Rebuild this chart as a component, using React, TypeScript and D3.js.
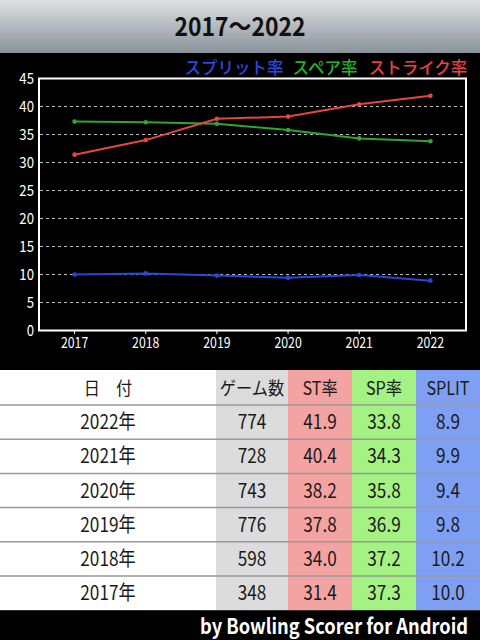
import React from "react";
import * as d3 from "d3";

const years = ["2017", "2018", "2019", "2020", "2021", "2022"];
const strikeRate = [31.4, 34.0, 37.8, 38.2, 40.4, 41.9];
const spareRate = [37.3, 37.2, 36.9, 35.8, 34.3, 33.8];
const splitRate = [10.0, 10.2, 9.8, 9.4, 9.9, 8.9];
const games = [348, 598, 776, 743, 728, 774];
const yTicks = [0, 5, 10, 15, 20, 25, 30, 35, 40, 45];
const title = "2017～2022";
const legendLabels = ["スプリット率", "スペア率", "ストライク率"];
const tableHeaders = ["日　付", "ゲーム数", "ST率", "SP率", "SPLIT"];
const footer = "by Bowling Scorer for Android";

const W = 480;
const H = 640;
const FONT = "'Noto Sans CJK JP', 'Noto Sans', sans-serif";

type TProps = {
  x: number;
  y: number;
  size: number;
  sx?: number;
  anchor?: "start" | "middle" | "end";
  fill?: string;
  weight?: string;
  children: React.ReactNode;
};

function T({ x, y, size, sx = 1, anchor = "middle", fill = "#1a1a1a", weight = "normal", children }: TProps) {
  return (
    <text
      transform={`translate(${x},${y}) scale(${sx},1)`}
      textAnchor={anchor}
      fontSize={size}
      fontWeight={weight}
      fill={fill}
    >
      {children}
    </text>
  );
}

export default function App() {
  const x = d3.scalePoint<string>().domain(years).range([39, 466]).padding(0.5);
  const y = d3.scaleLinear().domain([0, 45]).range([330.5, 78.5]);

  const series = [
    { name: legendLabels[0], values: splitRate, color: "#2a46d8", legendColor: "#2b48e6" },
    { name: legendLabels[1], values: spareRate, color: "#2fa632", legendColor: "#22b522" },
    { name: legendLabels[2], values: strikeRate, color: "#e54545", legendColor: "#ec4040" },
  ];

  const line = d3
    .line<number>()
    .x((_, i) => x(years[i]) as number)
    .y((d) => y(d));

  const cols = [
    { x0: 0, x1: 216, fill: "#ffffff" },
    { x0: 216, x1: 288, fill: "#dcdcdc" },
    { x0: 288, x1: 352, fill: "#f4a3a3" },
    { x0: 352, x1: 416, fill: "#a3f283" },
    { x0: 416, x1: 480, fill: "#7f9ff2" },
  ];
  const headerTop = 370;
  const headerH = 35;
  const rowH = 34.2;
  const rowsDesc = years.map((_, i) => years.length - 1 - i);
  const rows = rowsDesc.map((i) => [
    years[i] + "年",
    String(games[i]),
    strikeRate[i].toFixed(1),
    spareRate[i].toFixed(1),
    splitRate[i].toFixed(1),
  ]);
  const tableBottom = headerTop + headerH + rows.length * rowH;

  const legendX = [234, 325, 418];

  return (
    <svg
      width={W}
      height={H}
      style={{ position: "absolute", left: 0, top: 0, fontFamily: FONT }}
    >
      <defs>
        <linearGradient id="tg" x1="0" y1="0" x2="0" y2="1">
          <stop offset="0" stopColor="#dfe1e2" />
          <stop offset="1" stopColor="#89929a" />
        </linearGradient>
      </defs>
      <rect x={0} y={0} width={W} height={53} fill="url(#tg)" />
      <T x={240} y={36} size={26} sx={0.88} weight="bold" fill="#111">
        {title}
      </T>
      <rect x={0} y={53} width={W} height={headerTop - 53} fill="#000" />

      {series.map((s, i) => (
        <T key={s.name} x={legendX[i]} y={74} size={16.5} fill={s.legendColor} weight="500">
          {s.name}
        </T>
      ))}

      {yTicks.filter((t) => t > 0 && t < 45).map((t) => (
        <line key={t} x1={40} x2={465} y1={y(t)} y2={y(t)} stroke="#bbbbbb" strokeWidth={1} strokeDasharray="3,3" />
      ))}
      <rect x={39} y={78.5} width={427} height={252} fill="none" stroke="#ffffff" strokeWidth={2} />
      {yTicks.map((t) => (
        <T key={t} x={34} y={y(t) + 5.5} size={15.5} sx={0.85} anchor="end" fill="#ffffff">
          {t}
        </T>
      ))}
      {years.map((yr) => (
        <g key={yr}>
          <line x1={x(yr)} x2={x(yr)} y1={330.5} y2={334} stroke="#ffffff" strokeWidth={1} />
          <T x={x(yr) as number} y={348} size={15} sx={0.82} fill="#ffffff">
            {yr}
          </T>
        </g>
      ))}
      {series.map((s) => (
        <g key={s.name}>
          <path d={line(s.values) || ""} fill="none" stroke={s.color} strokeWidth={2} />
          {s.values.map((v, i) => (
            <circle key={i} cx={x(years[i])} cy={y(v)} r={2.3} fill={s.color} />
          ))}
        </g>
      ))}

      {[headerTop, ...rows.map((_, r) => headerTop + headerH + r * rowH)].map((top, r) => {
        const h = r === 0 ? headerH : rowH;
        const cells = r === 0 ? tableHeaders : rows[r - 1];
        return (
          <g key={r}>
            {cols.map((c, ci) => (
              <g key={ci}>
                <rect x={c.x0} y={top} width={c.x1 - c.x0} height={h} fill={c.fill} />
                <T
                  x={(c.x0 + c.x1) / 2}
                  y={top + h / 2 + 7}
                  size={r === 0 ? 18 : 20}
                  sx={r === 0 ? 0.9 : 0.86}
                >
                  {cells[ci]}
                </T>
              </g>
            ))}
          </g>
        );
      })}
      {rows.map((_, r) => (
        <line
          key={r}
          x1={0}
          x2={W}
          y1={headerTop + headerH + r * rowH}
          y2={headerTop + headerH + r * rowH}
          stroke="#9a9a9a"
          strokeWidth={1.5}
        />
      ))}
      <rect x={0} y={tableBottom} width={W} height={H - tableBottom} fill="#000" />
      <T x={468} y={634} size={21} sx={0.87} anchor="end" weight="bold" fill="#ffffff">
        {footer}
      </T>
    </svg>
  );
}
